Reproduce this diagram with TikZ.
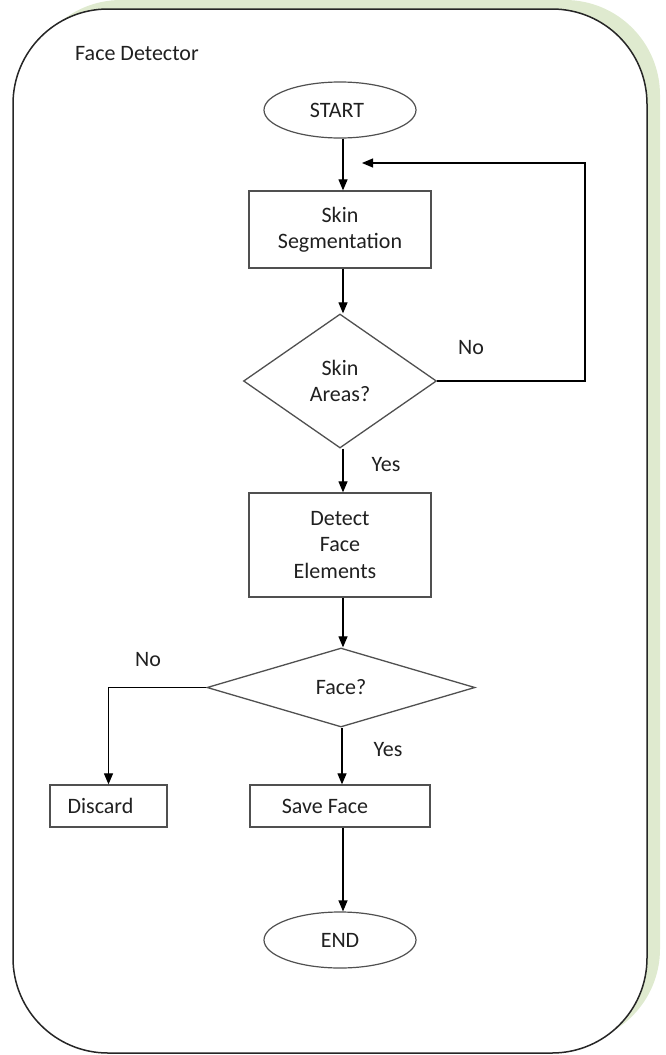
\documentclass[tikz,border=0pt]{standalone}
\usepackage{fontspec}
\setmainfont{Carlito}
\usetikzlibrary{shapes.geometric,arrows.meta}
\definecolor{shadowgreen}{HTML}{DFEACF}
\definecolor{boxline}{HTML}{505050}
\definecolor{txt}{HTML}{202020}
\tikzset{
  every node/.style={font=\fontsize{22}{26.5}\selectfont, text=txt},
  procbox/.style={draw=boxline, line width=1.3pt, rectangle, inner sep=0pt, align=center},
  termbox/.style={draw=boxline, line width=1.2pt, ellipse, inner sep=0pt, minimum width=152pt, minimum height=56pt},
  decbox/.style={draw=boxline, line width=1.3pt, diamond, inner sep=0pt, align=center},
  flow/.style={draw=black, line width=1.2pt, -{Triangle[length=11pt,width=9pt]}},
  lbl/.style={inner sep=0pt}
}
\begin{document}
\begin{tikzpicture}[x=1pt,y=-1pt]
\useasboundingbox (0,0) rectangle (666,1055);
% container with green shadow
\fill[shadowgreen, rounded corners=95pt] (26,0) rectangle (660,1044);
\draw[fill=white, draw=black!85, line width=1.5pt, rounded corners=95pt] (13,9) rectangle (647,1053);
\node[lbl, anchor=west] (title) at (75,54) {Face Detector};

\node[termbox] (start) at (340,110) {START\hspace*{6pt}};
\node[procbox, minimum width=182pt, minimum height=77pt] (skin) at (340,229.5) {Skin\\Segmentation};
\node[decbox, minimum width=193pt, minimum height=134pt] (skinq) at (340,381) {Skin\\Areas?};
\node[procbox, minimum width=182pt, minimum height=104pt] (detect) at (340,545) {Detect\\Face\\Elements\hspace*{10pt}};
\node[decbox, minimum width=268pt, minimum height=79pt] (faceq) at (341,687.5) {Face?};
\node[procbox, minimum width=117pt, minimum height=42pt] (discard) at (108.5,806) {Discard\hspace*{16pt}};
\node[procbox, minimum width=180pt, minimum height=42pt] (save) at (340,806) {Save Face\hspace*{30pt}};
\node[termbox] (end) at (340,940) {END};

\coordinate (loopend) at (362,163);
\coordinate (loopcorner) at (585,381);

\draw[flow] ([xshift=3pt]start.south) -- ([xshift=3pt]start.south |- skin.north);
\draw[flow] ([xshift=3pt]skin.south) -- ([xshift=3pt]skin.south |- skinq.north);
\draw[flow] ([xshift=3pt]skinq.south) -- ([xshift=3pt]skinq.south |- detect.north);
\draw[flow] (skinq.east) -- (loopcorner) |- (loopend);
\draw[flow] ([xshift=3pt]detect.south) -- ([xshift=3pt]detect.south |- faceq.north);
\draw[flow] ([xshift=1pt]faceq.south) -- ([xshift=1pt]faceq.south |- save.north);
\draw[flow] (faceq.west) -| (discard.north);
\draw[flow] ([xshift=3pt]save.south) -- ([xshift=3pt]save.south |- end.north);

\node[lbl] (no1) at (471,348) {No};
\node[lbl] (yes1) at (386,465) {Yes};
\node[lbl] (no2) at (148,660) {No};
\node[lbl] (yes2) at (388,750) {Yes};
\end{tikzpicture}
\end{document}
